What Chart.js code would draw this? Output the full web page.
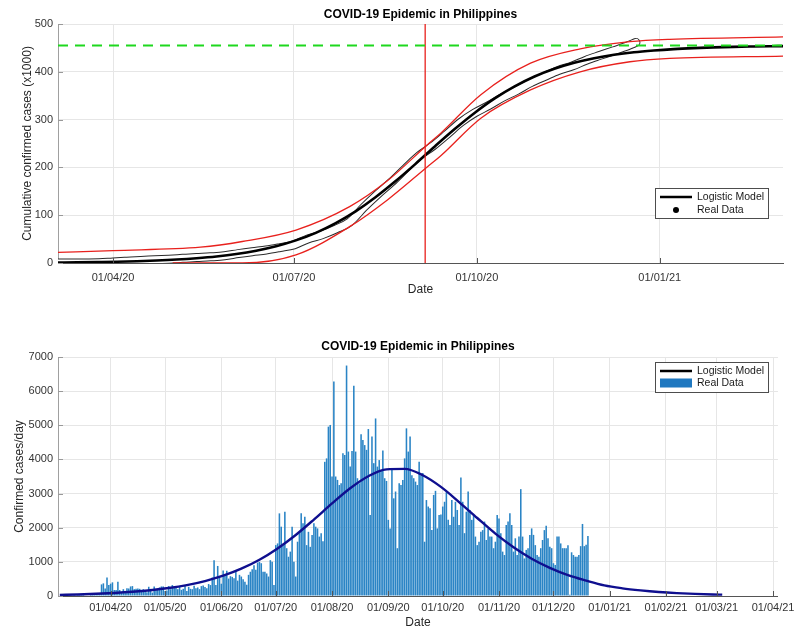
<!DOCTYPE html>
<html>
<head>
<meta charset="utf-8">
<title>COVID-19 Epidemic in Philippines</title>
<script src="https://cdn.jsdelivr.net/npm/chart.js@4.4.1/dist/chart.umd.min.js"></script>
<style>
  html, body { margin: 0; padding: 0; background: #fff; }
  .panel { position: absolute; left: 0; width: 800px; height: 315px; }
  #topPanel { top: 0; }
  #bottomPanel { top: 315px; }
</style>
</head>
<body>
<div class="panel" id="topPanel"><canvas id="cumChart" width="800" height="315"></canvas></div>
<div class="panel" id="bottomPanel"><canvas id="dailyChart" width="800" height="315"></canvas></div>
<script>
// ── values ─────────────────────────────────────────────────────────────────
const chartTitle = 'COVID-19 Epidemic in Philippines';

const topTicks    = ['01/04/20', '01/07/20', '01/10/20', '01/01/21'];
const bottomTicks = ['01/04/20', '01/05/20', '01/06/20', '01/07/20', '01/08/20', '01/09/20',
                     '01/10/20', '01/11/20', '01/12/20', '01/01/21', '01/02/21', '01/03/21', '01/04/21'];

// Real data, cumulative cases (x1000), weekly
const realDates = ['2020-03-04', '2020-03-11', '2020-03-18', '2020-03-25', '2020-04-01', '2020-04-08',
                   '2020-04-15', '2020-04-22', '2020-04-29', '2020-05-06', '2020-05-13', '2020-05-20',
                   '2020-05-27', '2020-06-03', '2020-06-10', '2020-06-17', '2020-06-24', '2020-07-01',
                   '2020-07-08', '2020-07-15', '2020-07-22', '2020-07-29', '2020-08-05', '2020-08-12',
                   '2020-08-19', '2020-08-26', '2020-09-02', '2020-09-09', '2020-09-16', '2020-09-23',
                   '2020-09-30', '2020-10-07', '2020-10-14', '2020-10-21', '2020-10-28', '2020-11-04',
                   '2020-11-11', '2020-11-18', '2020-11-25', '2020-12-02', '2020-12-09', '2020-12-16',
                   '2020-12-20'];
const realCum   = [0, 0.05, 0.2, 0.55, 2.3, 3.9, 5.45, 6.6, 7.96, 9.7, 11.4, 12.9,
                   15.0, 19.7, 23.7, 27.2, 32.3, 38.0, 50.4, 58.9, 70.8, 85.5, 115.9, 143.7,
                   169.2, 197.2, 224.3, 245.1, 269.4, 294.6, 314.1, 329.6, 346.5, 360.8, 376.9, 390.0,
                   402.8, 412.0, 424.3, 434.4, 444.2, 454.4, 461.5];

// Logistic model (every 10 days), cumulative (x1000) and daily
const modelDates = ['2020-03-04', '2020-03-14', '2020-03-24', '2020-04-03', '2020-04-13', '2020-04-23',
                    '2020-05-03', '2020-05-13', '2020-05-23', '2020-06-02', '2020-06-12', '2020-06-22',
                    '2020-07-02', '2020-07-12', '2020-07-22', '2020-08-01', '2020-08-11', '2020-08-21',
                    '2020-08-31', '2020-09-10', '2020-09-20', '2020-09-30', '2020-10-10', '2020-10-20',
                    '2020-10-30', '2020-11-09', '2020-11-19', '2020-11-29', '2020-12-09', '2020-12-19',
                    '2020-12-29', '2021-01-08', '2021-01-18', '2021-01-28', '2021-02-07', '2021-02-17',
                    '2021-02-27', '2021-03-04'];
const modelCum   = [1.0, 1.4, 2.0, 2.7, 3.8, 5.2, 7.2, 10.0, 13.7, 18.8, 25.8, 35.0,
                    47.3, 63.1, 83.3, 108.0, 137.5, 170.9, 206.9, 244.4, 280.7, 314.4, 344.3, 369.4,
                    390.2, 406.3, 418.9, 428.4, 435.6, 440.9, 444.6, 447.5, 449.6, 451.2, 452.2, 452.9,
                    453.5, 453.8];
const modelDaily = [33, 46, 64, 89, 123, 169, 233, 320, 438, 594, 800, 1063,
                    1394, 1788, 2239, 2711, 3157, 3508, 3709, 3722, 3537, 3196, 2752, 2285,
                    1828, 1430, 1093, 824, 610, 450, 310, 225, 165, 118, 85, 62,
                    45, 40];

// Confidence bounds (x1000)
const upperDates = ['2020-03-04', '2020-04-01', '2020-05-15', '2020-06-05', '2020-07-02', '2020-07-29',
                    '2020-08-17', '2020-09-06', '2020-09-13', '2020-10-03', '2020-10-28', '2020-11-22',
                    '2020-12-17', '2021-01-06', '2021-03-04'];
const upperCum   = [22, 26, 33, 45, 69, 118, 172, 247, 272, 352, 418, 448, 463, 468, 473];
const lowerDates = ['2020-05-01', '2020-06-05', '2020-07-02', '2020-07-29', '2020-08-17', '2020-09-06',
                    '2020-09-13', '2020-10-03', '2020-10-28', '2020-11-22', '2020-12-17', '2021-01-06',
                    '2021-03-04'];
const lowerCum   = [0, 0, 17, 76, 132, 201, 225, 303, 362, 400, 421, 428, 433];

const plateau        = 455;          // green dashed level (x1000)
const inflectionDate = '2020-09-05'; // red vertical line

// Confirmed cases per day, one value per day from dailyStart
const dailyStart = '2020-03-05';
const dailyCases = [
  0, 2, 1, 4, 10, 9, 16, 3, 12, 47, 29, 47, 45, 15, 15, 13, 77, 73, 82,
  90, 84, 71, 340, 370, 220, 545, 320, 360, 400, 175, 175, 420, 175, 110, 200, 120, 230, 220, 280,
  290, 200, 210, 220, 210, 170, 200, 140, 110, 270, 210, 100, 280, 200, 180, 250, 280, 280, 150,
  160, 290, 200, 320, 240, 260,
  200, 270, 180, 210, 300, 150, 270, 210, 200, 300, 230, 250, 200, 290, 310, 260, 230, 350, 320,
  540, 1050, 320, 880, 550, 360, 750, 630, 740, 510, 580, 560, 520, 740, 450, 620, 570, 490, 420,
  330, 620, 710, 780, 900, 770, 980, 1000, 960, 710, 710, 660, 570, 1050, 1000, 320,
  1490, 1540, 2420, 2030, 1490, 2470, 1400, 1150, 1300, 2030, 1000, 570, 1590, 1840, 2420,
  2130, 2320, 1490, 1880, 1440, 1790, 2130, 2030, 1980, 1740, 1840, 1600, 3930, 4030, 4960,
  5010, 3500, 6280, 3500, 3400, 3250, 3300, 4180, 4130, 6750, 4230, 3790, 4250, 6160, 4230,
  3450, 3300, 4740, 4570, 4420, 4280, 4890, 2370, 4670, 3890, 5200, 3790, 3980, 3690, 4260,
  3450, 3370, 2230, 1980, 3690, 2860, 3060, 1400, 3300, 3250, 3400, 4030, 4910, 4230, 4670,
  3540, 3450, 3350, 3250, 3930, 3540, 3600,
  1590, 2810, 2620, 2570, 1930, 2960, 3080, 1980, 2370, 2390, 2620, 2760, 3040, 2230, 2080,
  2810, 2320, 2760, 2520, 2080, 3470, 2760, 1840, 2470, 3060, 2520, 2230, 2370, 1740, 1490,
  1590, 1880, 1930, 2180, 1640, 1980, 1740, 1740, 1400, 1590, 2370, 2270, 1840, 1300, 1200,
  2080, 2180, 2420, 2080, 1300, 1690, 1200, 1740, 3130, 1740, 1100, 1350, 1400, 1790, 1980,
  1790, 1490, 1200, 1150, 1400, 1640, 1930, 2060, 1690, 1440, 1400, 960, 910, 1740, 1740,
  1540, 1400, 1400, 1400, 1490, 40, 1280, 1200, 1150, 1150, 1200, 1460, 2110, 1460, 1500, 1760
];

// ── helpers ────────────────────────────────────────────────────────────────
const DAY   = 86400000;
const EPOCH = Date.UTC(2020, 0, 1);
const dayOf = s => (Date.parse(s + 'T00:00:00Z') - EPOCH) / DAY;
const tickDay = l => {
    const [d, m, y] = l.split('/').map(Number);
    return (Date.UTC(2000 + y, m - 1, d) - EPOCH) / DAY;
};
const pad2 = n => String(n).padStart(2, '0');
const dayLabel = v => {
    const d = new Date(EPOCH + Math.round(v) * DAY);
    return pad2(d.getUTCDate()) + '/' + pad2(d.getUTCMonth() + 1) + '/' + String(d.getUTCFullYear()).slice(2);
};
const pts = (dates, vals) => dates.map((s, i) => ({ x: dayOf(s), y: vals[i] }));

const fontFamily = "'Liberation Sans', Arial, Helvetica, sans-serif";
const tickColor  = '#333333';
const gridColor  = '#e6e6e6';
const barColor   = '#2a84c5';
const tickFont   = { size: 11, family: fontFamily };
const labelFont  = { size: 12, family: fontFamily };

Chart.defaults.font.family = fontFamily;
Chart.defaults.color = tickColor;

// small inward tick marks, like MATLAB axes
const innerTicks = {
    id: 'innerTicks',
    afterDatasetsDraw(chart) {
        const { ctx, chartArea: a, scales: { x, y } } = chart;
        ctx.save();
        ctx.lineWidth = 1;
        ctx.strokeStyle = '#555';
        ctx.beginPath();
        x.ticks.forEach(t => {
            const px = Math.round(x.getPixelForValue(t.value)) + 0.5;
            ctx.moveTo(px, a.bottom);
            ctx.lineTo(px, a.bottom - 5);
        });
        ctx.stroke();
        ctx.strokeStyle = '#999';
        ctx.beginPath();
        y.ticks.forEach(t => {
            const py = Math.round(y.getPixelForValue(t.value)) + 0.5;
            ctx.moveTo(a.left, py);
            ctx.lineTo(a.left + 5, py);
        });
        ctx.stroke();
        ctx.restore();
    }
};

// MATLAB-style boxed legend drawn inside the axes
const boxLegend = {
    id: 'boxLegend',
    afterDatasetsDraw(chart, args, o) {
        if (!o || !o.rows) return;
        const ctx = chart.ctx;
        ctx.save();
        ctx.fillStyle = '#fff';
        ctx.fillRect(o.x, o.y, o.w, o.h);
        ctx.strokeStyle = '#4d4d4d';
        ctx.lineWidth = 1;
        ctx.strokeRect(o.x + 0.5, o.y + 0.5, o.w, o.h);
        ctx.font = '10.5px ' + fontFamily;
        ctx.textBaseline = 'middle';
        o.rows.forEach((r, i) => {
            const cy = o.y + o.rowTop + i * o.rowGap;
            if (r.kind === 'line') {
                ctx.strokeStyle = r.color;
                ctx.lineWidth = 2.5;
                ctx.beginPath();
                ctx.moveTo(o.x + 5, cy);
                ctx.lineTo(o.x + 37, cy);
                ctx.stroke();
            } else if (r.kind === 'dot') {
                ctx.fillStyle = r.color;
                ctx.beginPath();
                ctx.arc(o.x + 21, cy, 3, 0, Math.PI * 2);
                ctx.fill();
            } else {
                ctx.fillStyle = r.color;
                ctx.fillRect(o.x + 5, cy - 4.5, 32, 9);
            }
            ctx.fillStyle = '#1a1a1a';
            ctx.fillText(r.text, o.x + 42, cy);
        });
        ctx.restore();
    }
};

function xAxis(min, max, tickList, height, tickPad, titlePad) {
    return {
        type: 'linear', min, max, offset: false,
        afterBuildTicks: s => { s.ticks = tickList.map(l => ({ value: tickDay(l) })); },
        afterFit: s => { s.height = height; },
        ticks: { callback: v => dayLabel(v), autoSkip: false, maxRotation: 0, padding: tickPad, color: tickColor, font: tickFont },
        grid: { color: gridColor, drawTicks: false, offset: false },
        border: { color: '#555555' },
        title: { display: true, text: 'Date', color: '#262626', font: labelFont, padding: { top: 0, bottom: titlePad } }
    };
}

function yAxis(max, step, text, titlePad) {
    return {
        min: 0, max,
        afterFit: s => { s.width = 58; },
        ticks: { stepSize: step, padding: 5, color: tickColor, font: tickFont, callback: v => String(v) },
        grid: { color: gridColor, drawTicks: false },
        border: { color: '#a0a0a0' },
        title: { display: true, text, color: '#262626', font: labelFont, padding: { top: titlePad, bottom: 0 } }
    };
}

const titleOpts = (top, bottom) => ({
    display: true, text: chartTitle, fullSize: false, color: '#000',
    font: { size: 12, weight: 'bold', family: fontFamily }, padding: { top, bottom }
});

// ── 1. cumulative cases ────────────────────────────────────────────────────
const realPts = pts(realDates, realCum);
const infl = dayOf(inflectionDate);

new Chart(document.getElementById('cumChart'), {
    type: 'line',
    data: {
        datasets: [
            { label: 'plateau', data: [{ x: 63.3, y: plateau }, { x: 428, y: plateau }],
              borderColor: '#1ed81e', borderWidth: 2, borderDash: [10, 7], order: 0 },
            { label: 'inflection', data: [{ x: infl, y: 0 }, { x: infl, y: 500 }],
              borderColor: '#e8211d', borderWidth: 1.3, order: 1 },
            { label: 'upper', data: pts(upperDates, upperCum), borderColor: '#e8211d', borderWidth: 1.3,
              cubicInterpolationMode: 'monotone', order: 2 },
            { label: 'lower', data: pts(lowerDates, lowerCum), borderColor: '#e8211d', borderWidth: 1.3,
              cubicInterpolationMode: 'monotone', order: 2 },
            { label: 'Logistic Model', data: pts(modelDates, modelCum), borderColor: '#000', borderWidth: 2.6,
              cubicInterpolationMode: 'monotone', order: 3 },
            { label: 'Real Data', data: realPts, borderColor: '#ffffff', borderWidth: 7,
              borderCapStyle: 'round', borderJoinStyle: 'round', cubicInterpolationMode: 'monotone', order: 4 },
            { label: 'Real Data edge', data: realPts, borderColor: '#2a2a2a', borderWidth: 9,
              borderCapStyle: 'round', borderJoinStyle: 'round', cubicInterpolationMode: 'monotone', order: 5 }
        ]
    },
    options: {
        responsive: false,
        animation: false,
        elements: { point: { radius: 0 } },
        layout: { padding: { left: 0, right: 17, top: 0, bottom: 0 } },
        plugins: {
            legend: { display: false },
            tooltip: { enabled: false },
            title: titleOpts(7.8, 1.8),
            boxLegend: {
                x: 655, y: 188, w: 113, h: 30, rowTop: 9, rowGap: 13,
                rows: [{ kind: 'line', color: '#000', text: 'Logistic Model' },
                       { kind: 'dot', color: '#000', text: 'Real Data' }]
            }
        },
        scales: {
            x: xAxis(63.3, 428, topTicks, 52, 8, 17.8),
            y: yAxis(500, 100, 'Cumulative confirmed cases (x1000)', 20)
        }
    },
    plugins: [innerTicks, boxLegend]
});

// ── 2. daily cases ─────────────────────────────────────────────────────────
const firstDay = dayOf(dailyStart);

new Chart(document.getElementById('dailyChart'), {
    type: 'bar',
    data: {
        datasets: [
            { type: 'line', label: 'Logistic Model', data: pts(modelDates, modelDaily),
              borderColor: '#0f0f8f', borderWidth: 2.4, pointRadius: 0,
              cubicInterpolationMode: 'monotone', order: 0 },
            { label: 'Real Data', data: dailyCases.map((v, i) => ({ x: firstDay + i, y: v })),
              backgroundColor: barColor, barPercentage: 1, categoryPercentage: 0.86, order: 1 }
        ]
    },
    options: {
        responsive: false,
        animation: false,
        layout: { padding: { left: 0, right: 17, top: 0, bottom: 0 } },
        plugins: {
            legend: { display: false },
            tooltip: { enabled: false },
            title: titleOpts(24.8, 2.8),
            boxLegend: {
                x: 655, y: 47, w: 113, h: 30, rowTop: 9, rowGap: 12,
                rows: [{ kind: 'line', color: '#000', text: 'Logistic Model' },
                       { kind: 'rect', color: '#1f78c0', text: 'Real Data' }]
            }
        },
        scales: {
            x: xAxis(62, 458.7, bottomTicks, 34, 5.4, 0),
            y: yAxis(7000, 1000, 'Confirmed cases/day', 12.8)
        }
    },
    plugins: [innerTicks, boxLegend]
});
</script>
</body>
</html>
